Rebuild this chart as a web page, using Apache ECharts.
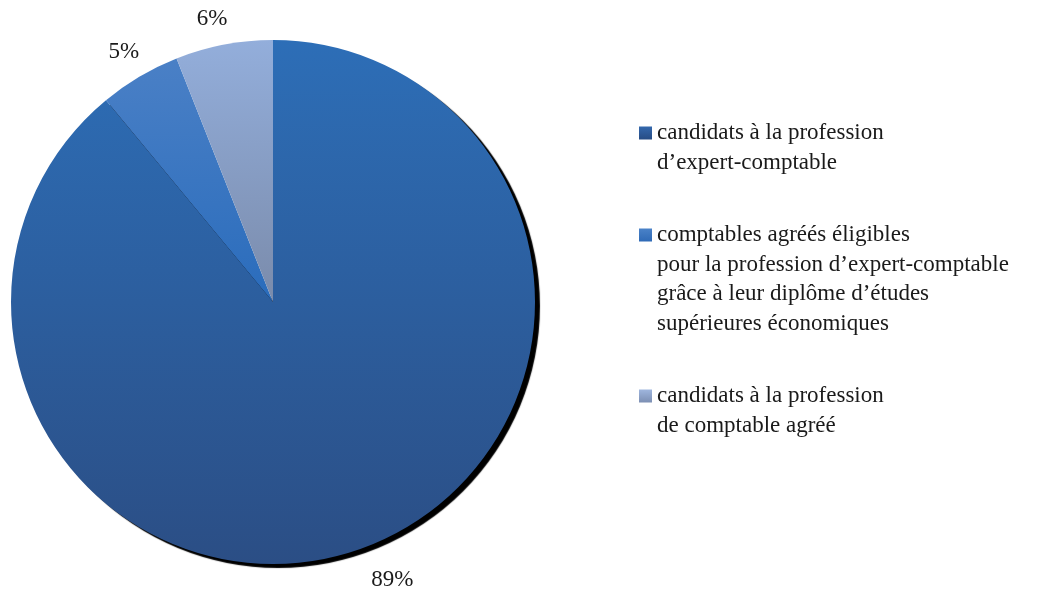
<!DOCTYPE html>
<html>
<head>
<meta charset="utf-8">
<title>Pie</title>
<script src="https://cdn.jsdelivr.net/npm/echarts@6/dist/echarts.min.js"></script>
<style>
  html, body { margin: 0; padding: 0; background: #fff; }
  #chart { width: 1043px; height: 590px; }
</style>
</head>
<body>
<div id="chart"></div>
<script>
// data
const categories = [
  'candidats à la profession\nd\u2019expert-comptable',
  'comptables agréés éligibles\npour la profession d\u2019expert-comptable\ngrâce à leur diplôme d\u2019études\nsupérieures économiques',
  'candidats à la profession\nde comptable agréé'
]
const values = [89, 5, 6]
const labels = ['89%', '5%', '6%']

const grad = (a, b) => new echarts.graphic.LinearGradient(0, 0, 0, 1, [
  { offset: 0, color: a }, { offset: 1, color: b }
])
const sliceColors = [
  ['#2d6eb7', '#2b4e85'],
  ['#4a80c6', '#2a6cbc'],
  ['#93aedb', '#7a8bab']
]
const legendColors = [
  ['#3468ad', '#264c84'],
  ['#4a82c8', '#2f6ab6'],
  ['#9fb6de', '#7c8fb3']
]

const FONT = '"Liberation Serif", "DejaVu Serif", serif'
const LH = 29.6
const FS = 23
const legendTops = [133, 235, 396] // icon centre y

const chart = echarts.init(document.getElementById('chart'))

// legend text is centred on the icon, so pad the top with blank lines
// to put the icon beside the first line
const legends = categories.map((name, i) => {
  const n = name.split('\n').length
  return {
    orient: 'vertical',
    left: 639,
    top: legendTops[i] - (2 * n - 1) * LH / 2,
    padding: 0,
    itemWidth: 13,
    itemHeight: 13,
    itemGap: 0,
    icon: 'rect',
    selectedMode: false,
    formatter: t => '\n'.repeat(t.split('\n').length - 1) + t,
    data: [{
      name: name,
      itemStyle: { color: grad(legendColors[i][0], legendColors[i][1]) }
    }],
    textStyle: {
      fontFamily: FONT,
      fontSize: FS,
      lineHeight: LH,
      color: '#1a1a1a'
    }
  }
})

const option = {
  backgroundColor: '#fff',
  animation: false,
  legend: legends,
  series: [
    {
      type: 'pie',
      center: [273, 302],
      radius: 262,
      startAngle: 90,
      clockwise: true,
      silent: true,
      label: { show: false },
      labelLine: { show: false },
      data: values.map((v, i) => ({
        name: categories[i],
        value: v,
        itemStyle: Object.assign(
          { color: grad(sliceColors[i][0], sliceColors[i][1]), borderWidth: 0 },
          i === 0 ? { shadowColor: '#000', shadowBlur: 1, shadowOffsetX: 5, shadowOffsetY: 4 } : {}
        )
      }))
    },
    {
      // transparent ring carrying the percentage labels just outside the pie
      type: 'pie',
      center: [273, 302],
      radius: [262, 318],
      startAngle: 90,
      clockwise: true,
      silent: true,
      z: 3,
      itemStyle: { color: 'rgba(0,0,0,0)' },
      label: {
        show: true,
        position: 'inside',
        fontFamily: FONT,
        fontSize: 23,
        color: '#1a1a1a',
        formatter: p => labels[p.dataIndex]
      },
      labelLine: { show: false },
      data: values.map((v, i) => ({
        name: 'lbl' + i,
        value: v,
        label: i === 0 ? { offset: [20, 2] } : (i === 2 ? { offset: [-6, 5] } : { offset: [0, 2] })
      }))
    }
  ]
}

chart.setOption(option)
window.addEventListener('resize', () => chart.resize())
</script>
</body>
</html>
